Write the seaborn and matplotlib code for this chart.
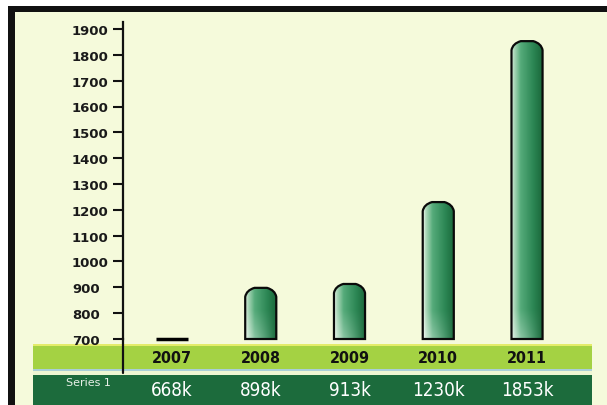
import numpy as np
import pandas as pd
import matplotlib
matplotlib.use("Agg")
import matplotlib.pyplot as plt
import matplotlib.patches as mpatches
import matplotlib.transforms as mtrans
from matplotlib.path import Path
from matplotlib.colors import LinearSegmentedColormap
import seaborn as sns

# Data
years = ['2007', '2008', '2009', '2010', '2011']
values = [668, 898, 913, 1230, 1853]
value_labels = ['668k', '898k', '913k', '1230k', '1853k']
series_name = 'Series 1'
y_ticks = [700, 800, 900, 1000, 1100, 1200, 1300, 1400, 1500, 1600, 1700, 1800, 1900]

df = pd.DataFrame({'Year': years, 'Value': values})

BG = '#f5fadb'
LIGHT_ROW = '#a4d243'
DARK_ROW = '#1c6b3c'

sns.set_theme(style='ticks')
plt.rcParams['font.family'] = ['DejaVu Sans']

W, H = 607, 406
fig = plt.figure(figsize=(W / 100, H / 100), dpi=100)
fig.patch.set_facecolor('white')


def px_rect(x0, y0, x1, y1, color):
    # rectangle given in pixel coords measured from the top-left corner
    fig.patches.append(mpatches.Rectangle((x0 / W, 1 - y1 / H), (x1 - x0) / W, (y1 - y0) / H,
                                          transform=fig.transFigure, facecolor=color,
                                          edgecolor='none', zorder=-10))


# page background, frame and data table rows
px_rect(15, 13, W, H, BG)
px_rect(8, 7, W, 13, '#111111')
px_rect(8, 7, 15, H, '#111111')
px_rect(33, 345, 592, 347, '#e4ec6a')
px_rect(33, 347, 592, 370, LIGHT_ROW)
px_rect(33, 370, 592, 372, '#a9cfd6')
px_rect(33, 372, 592, 376, '#eef6d2')
px_rect(33, 376, 592, H, DARK_ROW)

# axes: x from 123 to 592 px, y from 23 (top) to 340 (value 700)
ax_l, ax_r, ax_t, ax_b = 123, 592, 23, 340
ax = fig.add_axes([ax_l / W, 1 - ax_b / H, (ax_r - ax_l) / W, (ax_b - ax_t) / H])
ax.set_facecolor('none')

sns.barplot(data=df, x='Year', y='Value', width=0.35, color='#2e8b57', ax=ax)

ymin = 700
px_per_unit = (340 - 30) / 1200
ymax = 1900 + (30 - ax_t) / px_per_unit

bar_cmap = LinearSegmentedColormap.from_list(
    'bar', [(0, '#f4faf4'), (0.07, '#b5dcc0'), (0.3, '#55ab7a'), (0.7, '#2c8654'), (1, '#1a673a')])

cap = 9 / px_per_unit
for p in list(ax.patches):
    x0, w, top = p.get_x(), p.get_width(), p.get_height()
    x1 = x0 + w
    p.set_visible(False)
    if top <= ymin:
        ax.plot([x0, x1], [ymin, ymin], color='black', lw=2.5, clip_on=False,
                solid_capstyle='butt', zorder=4)
        continue
    verts = [(x0, ymin), (x0, top - cap), (x0 + 0.04 * w, top - 0.25 * cap), (x0 + 0.3 * w, top),
             (x1 - 0.3 * w, top), (x1 - 0.04 * w, top - 0.25 * cap), (x1, top - cap), (x1, ymin), (x0, ymin)]
    codes = [Path.MOVETO, Path.LINETO, Path.CURVE3, Path.CURVE3, Path.LINETO,
             Path.CURVE3, Path.CURVE3, Path.LINETO, Path.CLOSEPOLY]
    shape = mpatches.PathPatch(Path(verts, codes), facecolor='none', edgecolor='#0a0a0a',
                               lw=1.6, zorder=4, clip_on=False)
    # horizontal gradient, whitened towards the bottom on the left side
    nx, ny = 64, 120
    xs = np.linspace(0, 1, nx)
    ys = np.linspace(ymin, top, ny)
    rgb = bar_cmap(xs)[:, :3]
    img = np.tile(rgb[None, :, :], (ny, 1, 1))
    fade = np.clip(1 - (ys - ymin) / 110, 0, 1)[:, None] * (1 - xs)[None, :] * 0.45
    img = img + (1 - img) * fade[:, :, None]
    im = ax.imshow(img, extent=[x0, x1, ymin, top], origin='lower', aspect='auto',
                   interpolation='bilinear', zorder=3)
    ax.add_patch(shape)
    im.set_clip_path(shape)

ax.set_ylim(ymin, ymax)
ax.set_xlim(-0.552, 4.732)

for s in ['top', 'right', 'bottom']:
    ax.spines[s].set_visible(False)
ax.spines['left'].set_color('#111111')
ax.spines['left'].set_linewidth(1.6)
fig.lines.append(plt.Line2D([ax_l / W, ax_l / W], [1 - 339 / H, 1 - 374 / H],
                            transform=fig.transFigure, color='#111111', lw=1.6))

ax.set_xlabel('')
ax.set_ylabel('')
ax.set_xticks([])
ax.set_yticks(y_ticks)
ax.set_yticklabels([str(t) for t in y_ticks], fontweight='bold', fontsize=9.5, color='#1a1a1a')
ax.tick_params(axis='y', left=True, direction='out', length=7.2, width=1.5,
               color='#111111', pad=29.5)
for lbl in ax.get_yticklabels():
    lbl.set_horizontalalignment('left')

# data table texts
tr = mtrans.blended_transform_factory(ax.transData, fig.transFigure)
for i, (yr, lab) in enumerate(zip(years, value_labels)):
    ax.text(i, 1 - 359 / H, yr, transform=tr, ha='center', va='center', fontsize=11.5,
            fontweight='bold', fontstretch='condensed', color='#111111', clip_on=False)
    ax.text(i, 1 - 391 / H, lab, transform=tr, ha='center', va='center', fontsize=13.5,
            fontstretch='condensed', color='white', clip_on=False)
fig.text(88 / W, 1 - 383 / H, series_name, ha='center', va='center', fontsize=8,
         color='#e8f0e8')

fig.savefig('out.png', dpi=100, facecolor=fig.get_facecolor())
